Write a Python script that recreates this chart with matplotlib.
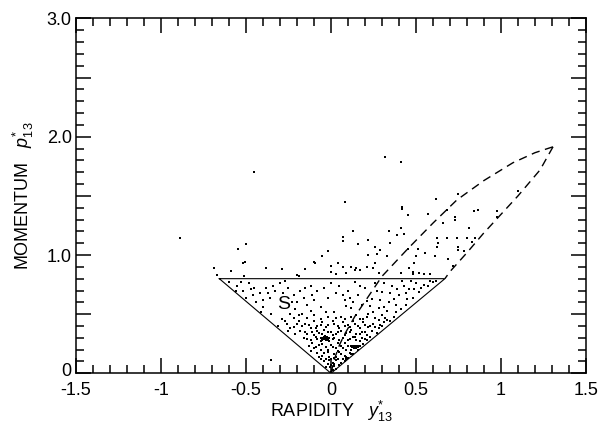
"""
Rapidity vs momentum scatter with kinematic region S and dashed boundary.
"""

import matplotlib

matplotlib.use("Agg")
import matplotlib.pyplot as plt
import matplotlib.transforms as mtransforms
from matplotlib.ticker import FuncFormatter, MultipleLocator

# events inside region S (rapidity, momentum)
core_x = [-0.15, -0.12, -0.10, -0.08, -0.05, -0.02, 0.01, 0.04, 0.07, 0.10, 0.13, 0.16, 0.19, 0.22, 0.25,
          -0.18, -0.14, -0.11, -0.07, -0.04, 0.00, 0.03, 0.06, 0.09, 0.12, 0.15, 0.18, 0.21, 0.24, 0.27,
          -0.16, -0.12, -0.09, -0.06, 0.01, 0.04, 0.07, 0.10, 0.13, 0.17, 0.20, 0.19,
          -0.13, -0.10, -0.07, -0.03, 0.00, 0.03, 0.06, 0.09, 0.16, 0.17,
          -0.08, -0.05, -0.02, 0.02, 0.05, 0.08, 0.11, 0.10, 0.13,
          -0.04, 0.03, 0.06, 0.09, -0.06, 0.08, 0.28, 0.31]
core_y = [0.42, 0.38, 0.44, 0.40, 0.43, 0.41, 0.44, 0.40, 0.43, 0.41, 0.44, 0.40, 0.43, 0.39, 0.42,
          0.36, 0.33, 0.35, 0.34, 0.37, 0.35, 0.33, 0.36, 0.34, 0.37, 0.33, 0.35, 0.32, 0.36, 0.34,
          0.30, 0.28, 0.31, 0.27, 0.29, 0.26, 0.30, 0.28, 0.31, 0.27, 0.29, 0.25,
          0.23, 0.21, 0.24, 0.22, 0.24, 0.21, 0.23, 0.20, 0.20, 0.23,
          0.17, 0.15, 0.18, 0.16, 0.18, 0.15, 0.17, 0.13, 0.165,
          0.10, 0.11, 0.09, 0.12, 0.12, 0.10, 0.38, 0.43]

core2_x = [-0.17, -0.13, -0.09, -0.06, -0.03, 0.02, 0.05, 0.08, 0.11, 0.14, 0.17, 0.20, 0.23,
           -0.15, -0.10, -0.08, -0.05, -0.02, 0.01, 0.04, 0.08, 0.11, 0.14, 0.17, 0.20, 0.23,
           -0.14, -0.11, -0.08, -0.05, -0.01, 0.02, 0.05, 0.08, 0.11, 0.15, 0.18, 0.21,
           -0.12, -0.09, -0.06, -0.02, 0.01, 0.04, 0.07, 0.10, 0.12, 0.16,
           -0.07, -0.04, -0.01, 0.03, 0.06, 0.09, 0.12, 0.04, -0.03, 0.07,
           -0.02, 0.02, 0.05, -0.03, 0.03, 0.01,
           -0.22, -0.19, -0.14, -0.10, -0.06, -0.02, 0.03, 0.08, 0.12, 0.17, 0.21, 0.26, 0.30,
           -0.20, -0.24, -0.21, 0.26, 0.29, 0.33, 0.37, -0.27, -0.25]
core2_y = [0.40, 0.41, 0.38, 0.41, 0.39, 0.42, 0.38, 0.40, 0.39, 0.42, 0.38, 0.41, 0.40,
           0.35, 0.32, 0.36, 0.33, 0.35, 0.32, 0.35, 0.32, 0.35, 0.31, 0.33, 0.35, 0.31,
           0.29, 0.26, 0.29, 0.25, 0.27, 0.30, 0.28, 0.26, 0.29, 0.28, 0.30, 0.28,
           0.19, 0.22, 0.20, 0.20, 0.22, 0.19, 0.21, 0.23, 0.20, 0.22,
           0.14, 0.17, 0.14, 0.14, 0.16, 0.14, 0.16, 0.12, 0.12, 0.12,
           0.08, 0.08, 0.07, 0.05, 0.04, 0.03,
           0.47, 0.49, 0.47, 0.49, 0.46, 0.48, 0.47, 0.46, 0.48, 0.46, 0.48, 0.47, 0.49,
           0.42, 0.38, 0.33, 0.39, 0.41, 0.45, 0.48, 0.44, 0.36]

blob_x = [-0.05, -0.04, -0.03, -0.02, -0.04, -0.03, -0.045, -0.025, -0.035, -0.015,
          -0.06, -0.01, -0.05, -0.02, -0.035,
          0.13, 0.14, 0.15, 0.135, 0.145, 0.155, 0.14, 0.125, 0.12, 0.16, 0.15,
          0.0, 0.005, -0.005, 0.0, 0.01, -0.01, 0.015, 0.02, -0.015, 0.0]
blob_y = [0.30, 0.29, 0.30, 0.295, 0.305, 0.285, 0.29, 0.31, 0.30, 0.29,
          0.295, 0.30, 0.28, 0.28, 0.315,
          0.23, 0.22, 0.225, 0.215, 0.235, 0.22, 0.23, 0.22, 0.23, 0.23, 0.21,
          0.01, 0.03, 0.05, 0.07, 0.09, 0.11, 0.13, 0.06, 0.08, 0.12]

left_x = [-0.60, -0.55, -0.52, -0.48, -0.46, -0.50, -0.44, -0.42, -0.40, -0.38, -0.41, -0.36,
          -0.35, -0.33, -0.30, -0.28, -0.25, -0.22, -0.20, -0.24, -0.29, -0.21, -0.18, -0.16,
          -0.17, -0.14, -0.12, -0.19, -0.26, -0.31, -0.22, -0.10, -0.08, -0.06, -0.12, -0.56,
          -0.45, -0.40, -0.34, -0.27, -0.23, -0.15, -0.11, -0.04, -0.03, -0.37, -0.47, -0.53]
left_y = [0.77, 0.74, 0.70, 0.76, 0.66, 0.64, 0.60, 0.68, 0.56, 0.72, 0.52, 0.64,
          0.50, 0.70, 0.76, 0.68, 0.72, 0.66, 0.60, 0.50, 0.46, 0.54, 0.70, 0.64,
          0.50, 0.58, 0.53, 0.44, 0.42, 0.40, 0.39, 0.62, 0.70, 0.56, 0.74, 0.70,
          0.72, 0.62, 0.74, 0.78, 0.60, 0.72, 0.66, 0.72, 0.52, 0.68, 0.71, 0.77]

right_x = [0.00, 0.03, 0.05, 0.08, 0.10, 0.12, 0.14, 0.16, 0.18, 0.20, 0.22, 0.24, 0.26, 0.28,
           0.30, 0.32, 0.34, 0.36, 0.38, 0.40, 0.42, 0.44, 0.46, 0.48, 0.50, 0.52, 0.55, 0.58,
           0.60, 0.35, 0.30, 0.28, 0.02, -0.02, 0.06, 0.09, 0.15, 0.19, 0.25, 0.33, 0.41, 0.44,
           0.37, 0.31, 0.11, 0.21, 0.27, 0.47, 0.53, 0.39,
           0.07, 0.13, 0.17, 0.23, 0.29, 0.35, 0.43, 0.49, 0.57, 0.62, 0.38, 0.45, 0.31]
right_y = [0.76, 0.68, 0.74, 0.62, 0.70, 0.55, 0.77, 0.66, 0.58, 0.72, 0.50, 0.63, 0.76, 0.55,
           0.69, 0.47, 0.60, 0.74, 0.52, 0.66, 0.78, 0.58, 0.71, 0.64, 0.76, 0.69, 0.75, 0.78,
           0.77, 0.44, 0.40, 0.45, 0.52, 0.64, 0.48, 0.57, 0.49, 0.46, 0.52, 0.53, 0.54, 0.68,
           0.63, 0.76, 0.64, 0.61, 0.70, 0.78, 0.72, 0.71,
           0.66, 0.60, 0.74, 0.57, 0.62, 0.68, 0.74, 0.71, 0.74, 0.78, 0.58, 0.63, 0.56]

# events outside region S
out_x = [0.32, 0.41, -0.45, 0.08, 0.42, 0.42, 0.455, 0.62, 0.75, 0.68, 0.73, 0.73, 0.66, 0.84,
         0.865, 0.975, 0.975, 1.10, 0.57, 0.13, 0.07, 0.07, 0.215, 0.16, 0.34, 0.35, 0.41, 0.43,
         0.455, 0.51, 0.50, 0.49, 0.48, 0.26, 0.29, 0.27, 0.22, 0.33, 0.39, 0.555, 0.61, 0.625,
         0.63, 0.625, 0.68, 0.74, 0.80, 0.81, 0.75, 0.75, 0.78, 0.83, 0.85, 0.69, 0.72, 0.04,
         0.12, 0.15, 0.17, 0.09, 0.03, 0.21, 0.26, 0.25, 0.28, 0.41, 0.46, 0.48, 0.52, 0.55,
         0.58, -0.10, -0.02, -0.055, -0.15, -0.19, -0.29, -0.50, -0.545, -0.505, -0.59, -0.69,
         -0.67, -0.51, -0.52, -0.38, -0.20, -0.095, 0.0, 0.0, 0.07, 0.14, -0.89, -0.355]
out_y = [1.83, 1.79, 1.70, 1.45, 1.41, 1.39, 1.34, 1.47, 1.52, 1.38, 1.32, 1.30, 1.27, 1.37,
         1.38, 1.37, 1.32, 1.54, 1.35, 1.20, 1.15, 1.12, 1.13, 1.09, 1.20, 1.10, 1.23, 1.18,
         1.05, 1.05, 0.99, 0.93, 0.86, 1.07, 1.04, 1.01, 1.00, 0.99, 1.17, 1.02, 0.99, 1.14,
         1.10, 1.07, 1.14, 1.14, 1.14, 1.23, 1.07, 1.04, 1.03, 1.11, 1.14, 0.97, 0.91, 0.935,
         0.90, 0.89, 0.87, 0.85, 0.84, 0.90, 0.935, 0.89, 0.85, 0.85, 0.89, 0.84, 0.85, 0.84,
         0.84, 0.94, 1.03, 0.99, 0.88, 0.82, 0.88, 1.09, 1.05, 0.94, 0.865, 0.89,
         0.83, 0.82, 0.935, 0.89, 0.83, 0.935, 0.86, 0.91, 0.90, 0.875, 1.14, 0.11]

# region S boundary
s_x = [-0.657, 0.0, 0.67, -0.657]
s_y = [0.80, 0.0, 0.80, 0.80]

# dashed kinematic boundary
upper_x = [0.0, 0.02, 0.05, 0.08, 0.112, 0.14, 0.22, 0.30, 0.45, 0.60, 0.74, 0.90, 1.07, 1.20, 1.306]
upper_y = [0.0, 0.12, 0.24, 0.33, 0.41, 0.48, 0.65, 0.82, 1.05, 1.27, 1.465, 1.63, 1.78, 1.865, 1.915]
lower_x = [1.306, 1.23, 1.10, 0.895, 0.80, 0.70, 0.67]
lower_y = [1.915, 1.72, 1.50, 1.18, 1.02, 0.86, 0.80]

plt.rcParams["font.family"] = ["Liberation Sans", "DejaVu Sans"]
plt.rcParams["mathtext.fontset"] = "custom"
plt.rcParams["mathtext.rm"] = "Liberation Sans"
plt.rcParams["mathtext.it"] = "Liberation Sans:italic"

fig = plt.figure(figsize=(6.05, 4.26), dpi=100)
ax = fig.add_axes([0.1256, 0.1237, 0.843, 0.833])

all_x = core_x + core2_x + blob_x + left_x + right_x + out_x
all_y = core_y + core2_y + blob_y + left_y + right_y + out_y
ax.scatter(all_x, all_y, s=1.6, c="black", marker="s", linewidths=0)

ax.plot(s_x, s_y, color="black", lw=0.8)
ax.plot(upper_x, upper_y, color="black", lw=1.0, ls=(0, (6, 4)))
ax.plot(lower_x, lower_y, color="black", lw=1.0, ls=(0, (6, 4)))
ax.text(-0.28, 0.58, "S", fontsize=14, ha="center", va="center")

ax.set_xlim(-1.5, 1.5)
ax.set_ylim(0, 3.0)
ax.xaxis.set_major_locator(MultipleLocator(0.5))
ax.xaxis.set_minor_locator(MultipleLocator(0.1))
ax.yaxis.set_major_locator(MultipleLocator(0.5))
ax.yaxis.set_minor_locator(MultipleLocator(0.1))


def _xfmt(v, pos):
    if abs(v) < 1e-9:
        return "0"
    if abs(v - round(v)) < 1e-9:
        return "%d" % round(v)
    return "%g" % v


def _yfmt(v, pos):
    if abs(v) < 1e-9:
        return "0"
    if abs(v - round(v)) < 1e-9:
        return "%.1f" % v
    return ""


ax.xaxis.set_major_formatter(FuncFormatter(_xfmt))
ax.yaxis.set_major_formatter(FuncFormatter(_yfmt))
ax.tick_params(which="both", direction="in", top=True, right=True, width=1.1,
               labelsize=13)
ax.tick_params(which="major", length=11)
ax.tick_params(which="minor", length=6)
ax.tick_params(axis="x", pad=6)
ax.tick_params(axis="y", pad=3)
for sp in ax.spines.values():
    sp.set_linewidth(1.1)

# lift the "0" on the momentum axis a little so it clears "-1.5"
fig.canvas.draw()
for lab in ax.get_yticklabels():
    if lab.get_text() == "0":
        lab.set_transform(lab.get_transform()
                          + mtransforms.ScaledTranslation(0, 3 / 72, fig.dpi_scale_trans))

ax.set_xlabel(r"RAPIDITY   $y^{*}_{13}$", fontsize=13, labelpad=0)
ax.set_ylabel(r"MOMENTUM   $p^{*}_{13}$", fontsize=13, labelpad=8)

plt.savefig("out.png", dpi=100)
plt.close()
